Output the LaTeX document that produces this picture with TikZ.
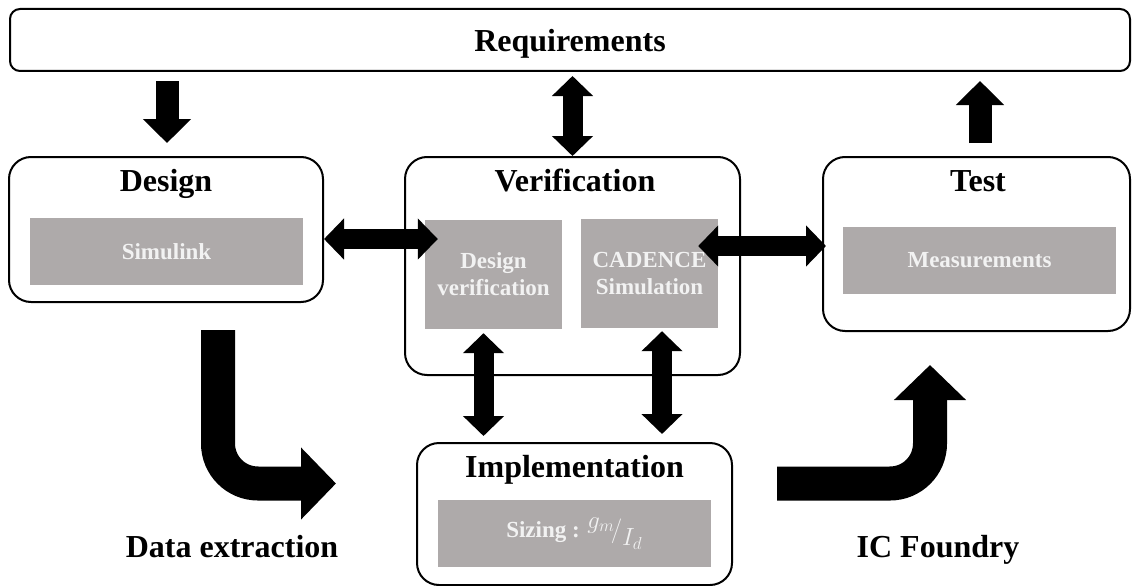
\documentclass[tikz,border=0pt]{standalone}
\usepackage{fontspec}
\setmainfont{Liberation Serif}
\usetikzlibrary{arrows.meta,calc}
\definecolor{boxgray}{HTML}{AEAAAA}
\definecolor{boxtext}{HTML}{F2F2F2}
\begin{document}
\begin{tikzpicture}[x=1pt,y=-1pt,
        stage/.style={draw=black,line width=2pt,rounded corners=22pt,inner sep=0pt},
        tool/.style={fill=boxgray,text=boxtext,font=\fontsize{23}{27}\selectfont\bfseries,align=center,inner sep=0pt},
        title/.style={font=\fontsize{32}{36}\selectfont\bfseries,anchor=base,inner sep=0pt},
        link/.style={line width=20pt,{Triangle[length=20pt,width=40pt]}-{Triangle[length=20pt,width=40pt]}},
        flow/.style={line width=23pt,-{Triangle[length=24pt,width=47pt]}},
        bigflow/.style={line width=34pt,rounded corners=40pt,-{Triangle[length=35pt,width=70pt]}}]
        \useasboundingbox (0,0) rectangle (1132,586);
        \node[stage,rounded corners=10pt,minimum width=1120pt,minimum height=62pt] (req) at (570,40) {};
        \node[title] (reqtitle) at (570,52) {Requirements};
        \node[stage,minimum width=314pt,minimum height=145pt] (design) at (166,229.5) {};
        \node[title] (designtitle) at (166,191) {Design};
        \node[stage,minimum width=335pt,minimum height=218pt] (verif) at (572.5,266) {};
        \node[title] (veriftitle) at (575,191) {Verification};
        \node[stage,minimum width=307pt,minimum height=174pt] (test) at (976.5,244) {};
        \node[title] (testtitle) at (978,191) {Test};
        \node[stage,minimum width=315pt,minimum height=142pt] (impl) at (574.5,514) {};
        \node[title] (impltitle) at (574.5,477) {Implementation};
        \node[tool,minimum width=273pt,minimum height=67pt] (sim) at (166.5,251.5) {Simulink};
        \node[tool,minimum width=137pt,minimum height=109pt] (dver) at (493.5,274.5) {Design\\verification};
        \node[tool,minimum width=137pt,minimum height=109pt] (cad) at (649.5,273.5) {CADENCE\\Simulation};
        \node[tool,minimum width=273pt,minimum height=67pt] (meas) at (979.5,260.5) {Measurements};
        \node[tool,minimum width=273pt,minimum height=67pt] (sizing) at (574.5,533.5)
            {Sizing : $^{\textstyle g_m}\!/_{\textstyle I_d}$};
        \node[title] (extract) at (232,557) {Data extraction};
        \node[title] (foundry) at (938,557) {IC Foundry};
        \draw[flow] ($(design.north |- req.south)+(1,9)$) -- ($(design.north)+(1,-13)$);
        \draw[link] ($(verif.north |- req.south)+(0,4)$) -- (verif.north);
        \draw[flow] ($(test.north)+(3.5,-13)$) -- ($(test.north |- req.south)+(3.5,9)$);
        \draw[link] (design.east |- 0,239) -- ($(dver.west |- 0,239)+(13,0)$);
        \draw[link] ($(cad.east |- 0,246)+(-20,0)$) -- ($(test.west |- 0,246)+(4,0)$);
        \draw[link] ($(dver.south)+(-10,4)$) -- ($(dver.south |- impl.north)+(-10,-6)$);
        \draw[link] ($(cad.south)+(12.5,3)$) -- ($(cad.south |- impl.north)+(12.5,-8)$);
        \coordinate (exstart) at (218,330);
        \coordinate (exend) at (336,483.5);
        \coordinate (icstart) at (777,483.5);
        \coordinate (icend) at (930,365);
        \draw[bigflow] (exstart) |- (exend);
        \draw[bigflow] (icstart) -| (icend);
    \end{tikzpicture}
\end{document}
